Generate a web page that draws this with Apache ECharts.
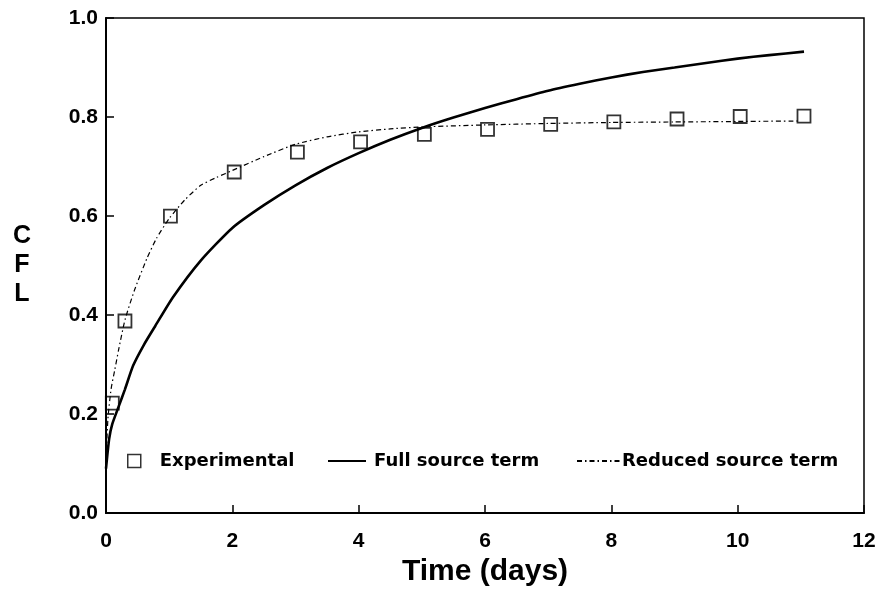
<!DOCTYPE html>
<html>
<head>
<meta charset="utf-8">
<script src="https://cdn.jsdelivr.net/npm/echarts@6/dist/echarts.min.js"></script>
<style>
html,body{margin:0;padding:0;background:#fff;}
#chart{width:879px;height:592px;}
</style>
</head>
<body>
<div id="chart"></div>
<script>
// Experimental data (time in days, CFL)
const expTime = [0.1, 0.3, 1.02, 2.03, 3.03, 4.03, 5.04, 6.04, 7.04, 8.04, 9.04, 10.04, 11.05];
const expCFL  = [0.222, 0.388, 0.600, 0.689, 0.729, 0.750, 0.765, 0.775, 0.785, 0.790, 0.796, 0.801, 0.802];

// Full source term (solid curve)
const fullTime = [0, 0.05, 0.1, 0.2, 0.3, 0.43, 0.6, 0.78, 1.06, 1.5, 2.0, 2.5, 3.0, 3.5, 4.0, 4.5, 5.0, 5.5, 6.0, 6.5, 7.0, 7.5, 8.0, 8.5, 9.0, 9.5, 10.0, 10.5, 11.05];
const fullCFL  = [0.09, 0.15, 0.18, 0.215, 0.25, 0.298, 0.34, 0.378, 0.436, 0.51, 0.576, 0.622, 0.662, 0.697, 0.727, 0.754, 0.778, 0.799, 0.818, 0.836, 0.853, 0.867, 0.880, 0.891, 0.900, 0.909, 0.918, 0.925, 0.932];

// Reduced source term (dashed curve)
const redTime = [0, 0.03, 0.08, 0.14, 0.2, 0.3, 0.45, 0.65, 0.8, 1.0, 1.25, 1.5, 1.75, 2.0, 2.5, 3.0, 3.5, 4.0, 4.5, 5.0, 6.0, 7.0, 8.0, 9.0, 10.0, 11.0];
const redCFL  = [0.10, 0.19, 0.25, 0.29, 0.33, 0.39, 0.45, 0.515, 0.555, 0.595, 0.633, 0.662, 0.678, 0.692, 0.720, 0.745, 0.760, 0.770, 0.776, 0.780, 0.784, 0.787, 0.789, 0.790, 0.791, 0.792];

const xTicks = [0, 2, 4, 6, 8, 10, 12];
const yTicks = [0.0, 0.2, 0.4, 0.6, 0.8, 1.0];

const pairs = (xs, ys) => xs.map((x, i) => [x, ys[i]]);

const chart = echarts.init(document.getElementById('chart'), null, {renderer: 'canvas'});
const labelFont = {color: '#000', fontFamily: 'Liberation Sans', fontWeight: 'bold'};
const legendText = {color: '#000', fontFamily: 'DejaVu Sans', fontWeight: 'bold', fontSize: 18};

chart.setOption({
  animation: false,
  backgroundColor: '#fff',
  grid: {left: 106, right: 15, top: 18, bottom: 74, show: true, borderColor: '#000', borderWidth: 1.5, containLabel: false},
  xAxis: {
    type: 'value', min: xTicks[0], max: xTicks[xTicks.length - 1], interval: 2,
    name: 'Time (days)', nameLocation: 'middle', nameGap: 39,
    nameTextStyle: Object.assign({fontSize: 30}, labelFont),
    axisLine: {lineStyle: {color: '#000', width: 2}},
    axisTick: {inside: true, length: 8, lineStyle: {color: '#000', width: 1.5}},
    axisLabel: Object.assign({fontSize: 21, margin: 18}, labelFont),
    splitLine: {show: false}
  },
  yAxis: {
    type: 'value', min: yTicks[0], max: yTicks[yTicks.length - 1], interval: 0.2,
    name: 'C\nF\nL', nameLocation: 'middle', nameGap: 84, nameRotate: 0,
    nameTextStyle: Object.assign({fontSize: 25, lineHeight: 29, align: 'center', verticalAlign: 'middle', padding: [20, 0, 0, 0]}, labelFont),
    axisLine: {lineStyle: {color: '#000', width: 2}},
    axisTick: {inside: true, length: 8, lineStyle: {color: '#000', width: 1.5}},
    axisLabel: Object.assign({fontSize: 21, margin: 8, formatter: v => v.toFixed(1)}, labelFont),
    splitLine: {show: false}
  },
  legend: [
    {data: ['Experimental'], left: 122, top: 447, itemWidth: 13, itemHeight: 13, itemGap: 0,
     icon: 'rect', itemStyle: {color: 'rgba(0,0,0,0)', borderColor: '#000', borderWidth: 1.5},
     textStyle: Object.assign({padding: [0, 0, 0, 14]}, legendText)},
    {data: ['Full source term'], left: 322, top: 447, itemWidth: 38, itemHeight: 13,
     itemStyle: {opacity: 0},
     textStyle: Object.assign({padding: [0, 0, 0, 3]}, legendText)},
    {data: ['Reduced source term'], left: 571, top: 447, itemWidth: 43, itemHeight: 13,
     itemStyle: {opacity: 0},
     textStyle: Object.assign({padding: [0, 0, 0, -3]}, legendText)}
  ],
  series: [
    {
      name: 'Full source term', type: 'line', data: pairs(fullTime, fullCFL),
      showSymbol: false, symbol: 'none', smooth: 0.2,
      lineStyle: {color: '#000', width: 2.6}, itemStyle: {color: '#000'}, z: 2
    },
    {
      name: 'Reduced source term', type: 'line', data: pairs(redTime, redCFL),
      showSymbol: false, symbol: 'none', smooth: 0.2,
      lineStyle: {color: '#000', width: 1.2, type: [5, 3, 1.5, 3]}, itemStyle: {color: '#000'}, z: 2
    },
    {
      name: 'Experimental', type: 'scatter', data: pairs(expTime, expCFL),
      symbol: 'rect', symbolSize: 13,
      itemStyle: {color: 'rgba(0,0,0,0)', borderColor: '#000', borderWidth: 1.8}, z: 3
    }
  ]
});
</script>
</body>
</html>
